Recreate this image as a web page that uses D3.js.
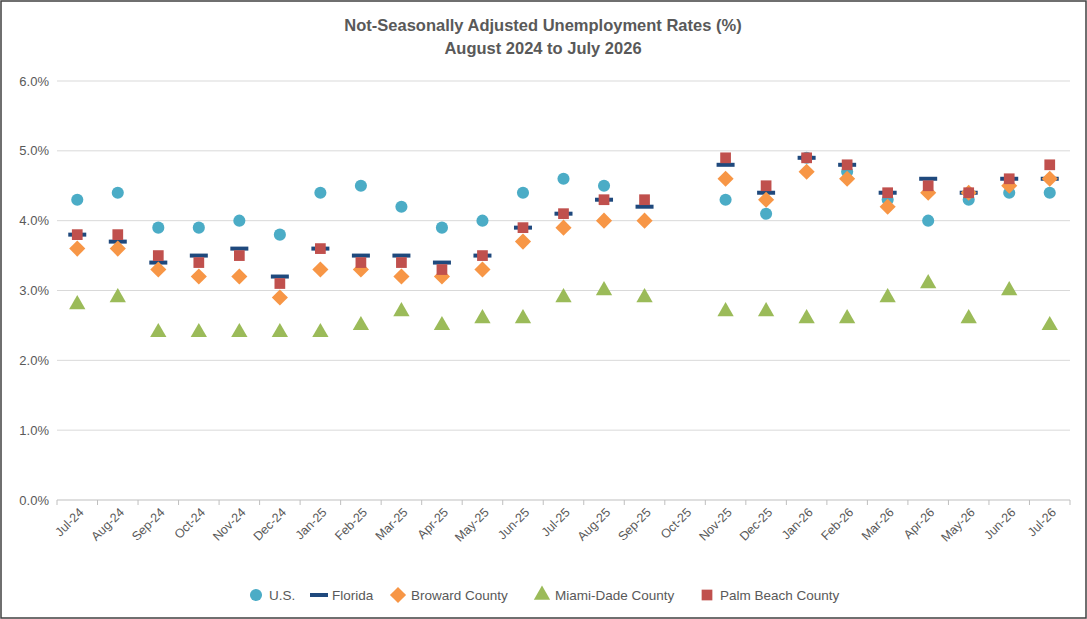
<!DOCTYPE html>
<html><head><meta charset="utf-8">
<script src="https://cdn.jsdelivr.net/npm/d3@7"></script>
<style>body{margin:0;background:#fff;font-family:"Liberation Sans",Arial,sans-serif}</style>
</head><body>
<svg class="chart" width="1087" height="619"></svg>
<script>
const months = ['Jul-24','Aug-24','Sep-24','Oct-24','Nov-24','Dec-24','Jan-25','Feb-25','Mar-25','Apr-25','May-25','Jun-25','Jul-25','Aug-25','Sep-25','Oct-25','Nov-25','Dec-25','Jan-26','Feb-26','Mar-26','Apr-26','May-26','Jun-26','Jul-26'];
const us =       [4.3,4.4,3.9,3.9,4.0,3.8,4.4,4.5,4.2,3.9,4.0,4.4,4.6,4.5,null,null,4.3,4.1,4.9,4.7,4.3,4.0,4.3,4.4,4.4];
const florida =  [3.8,3.7,3.4,3.5,3.6,3.2,3.6,3.5,3.5,3.4,3.5,3.9,4.1,4.3,4.2,null,4.8,4.4,4.9,4.8,4.4,4.6,4.4,4.6,4.6];
const broward =  [3.6,3.6,3.3,3.2,3.2,2.9,3.3,3.3,3.2,3.2,3.3,3.7,3.9,4.0,4.0,null,4.6,4.3,4.7,4.6,4.2,4.4,4.4,4.5,4.6];
const miami =    [2.8,2.9,2.4,2.4,2.4,2.4,2.4,2.5,2.7,2.5,2.6,2.6,2.9,3.0,2.9,null,2.7,2.7,2.6,2.6,2.9,3.1,2.6,3.0,2.5];
const palmBeach =[3.8,3.8,3.5,3.4,3.5,3.1,3.6,3.4,3.4,3.3,3.5,3.9,4.1,4.3,4.3,null,4.9,4.5,4.9,4.8,4.4,4.5,4.4,4.6,4.8];
const yTicks = [0,1,2,3,4,5,6];

const series = [
  {name:'U.S.', values:us, color:'#4BACC6', shape:'circle'},
  {name:'Florida', values:florida, color:'#1F497D', shape:'dash'},
  {name:'Broward County', values:broward, color:'#F79646', shape:'diamond'},
  {name:'Miami-Dade County', values:miami, color:'#9BBB59', shape:'triangle'},
  {name:'Palm Beach County', values:palmBeach, color:'#C0504D', shape:'square'}
];

const svg = d3.select('.chart');
svg.append('rect').attr('x',1).attr('y',1).attr('width',1085).attr('height',617)
  .attr('fill','#fff').attr('stroke','#404040').attr('stroke-width',1.5);

const margin = {top:81, right:17, bottom:119, left:57};
const innerWidth = 1087 - margin.left - margin.right;
const innerHeight = 619 - margin.top - margin.bottom;

const x = d3.scaleBand().domain(months).range([0, innerWidth]);
const y = d3.scaleLinear().domain([0,6]).range([innerHeight,0]);

const g = svg.append('g').attr('transform', `translate(${margin.left},${margin.top})`);

// gridlines
g.append('g').selectAll('line').data(yTicks).join('line')
  .attr('x1',0).attr('x2',innerWidth).attr('y1',d=>y(d)).attr('y2',d=>y(d))
  .attr('stroke',d=>d===0?'#bfbfbf':'#d9d9d9');
g.append('g').selectAll('text').data(yTicks).join('text')
  .attr('x',-8).attr('y',d=>y(d)).attr('dy','0.35em').attr('text-anchor','end')
  .attr('fill','#595959').style('font-size','13px').text(d=>d.toFixed(1)+'%');

// x ticks at band boundaries
g.append('g').selectAll('line').data(months.concat(['end'])).join('line')
  .attr('x1',(d,i)=>i*x.bandwidth()).attr('x2',(d,i)=>i*x.bandwidth())
  .attr('y1',innerHeight).attr('y2',innerHeight+5).attr('stroke','#bfbfbf');
g.append('g').selectAll('text').data(months).join('text')
  .attr('transform',d=>`translate(${x(d)+x.bandwidth()/2+4},${innerHeight+10}) rotate(-45)`)
  .attr('text-anchor','end').attr('dy','0.35em')
  .attr('fill','#595959').style('font-size','12.5px').text(d=>d);

const sym = {
  circle: d3.symbol().type(d3.symbolCircle).size(115),
  diamond: d3.symbol().type(d3.symbolSquare).size(130),
  triangle: d3.symbol().type(d3.symbolTriangle).size(115),
  square: d3.symbol().type(d3.symbolSquare).size(115)
};
function drawMark(sel, s){
  if(s.shape==='dash'){
    sel.append('rect').attr('x',-9).attr('y',-2).attr('width',18).attr('height',4).attr('fill',s.color);
  } else {
    sel.append('path').attr('d',sym[s.shape]()).attr('fill',s.color)
      .attr('transform', s.shape==='diamond' ? 'rotate(45)' : null);
  }
}

series.forEach(s=>{
  const pts = months.map((m,i)=>({m,v:s.values[i]})).filter(d=>d.v!=null);
  g.append('g').selectAll('g').data(pts).join('g')
    .attr('transform',d=>`translate(${x(d.m)+x.bandwidth()/2},${y(d.v)})`)
    .each(function(){ drawMark(d3.select(this), s); });
});

// title
svg.append('text').attr('x',543).attr('y',31).attr('text-anchor','middle')
  .attr('fill','#595959').style('font-size','16.5px').style('font-weight','bold')
  .text('Not-Seasonally Adjusted Unemployment Rates (%)');
svg.append('text').attr('x',543).attr('y',54).attr('text-anchor','middle')
  .attr('fill','#595959').style('font-size','16.5px').style('font-weight','bold')
  .text('August 2024 to July 2026');

// legend
const legendX = [256, 319, 398, 542, 707];
const lg = svg.append('g').attr('transform','translate(0,595)');
series.forEach((s,i)=>{
  const item = lg.append('g').attr('transform',`translate(${legendX[i]},0)`);
  drawMark(item, s);
  item.append('text').attr('x',13).attr('dy','0.35em').attr('fill','#595959')
    .style('font-size','13.5px').text(s.name);
});
</script>
</body></html>
